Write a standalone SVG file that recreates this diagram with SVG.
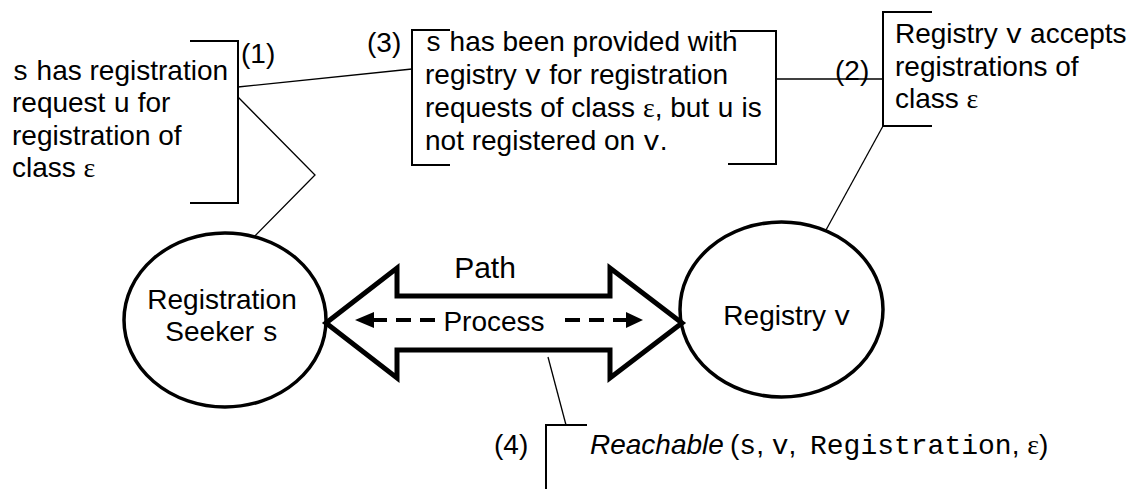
<svg xmlns="http://www.w3.org/2000/svg" width="1140" height="489" viewBox="0 0 1140 489">
<style>
  text { font-family: "Liberation Sans", Arial, sans-serif; font-size: 28px; fill: #000; }
  .m { font-family: "Liberation Mono", "Courier New", monospace; }
  .g { font-family: "Liberation Serif", "Times New Roman", serif; }
  .it { font-style: italic; }
  .br { fill: none; stroke: #000; stroke-width: 2; }
  .cn { fill: none; stroke: #000; stroke-width: 1.3; }
  .node { fill: #fff; stroke: #000; stroke-width: 3.5; }
  .big { fill: #fff; stroke: #000; stroke-width: 5; stroke-linejoin: miter; }
  .dash { fill: none; stroke: #000; stroke-width: 4; stroke-dasharray: 15 9; }
</style>
<rect width="1140" height="489" fill="#fff"/>

<g id="connectors">
  <line class="cn" x1="238" y1="87" x2="412" y2="69"/>
  <line class="cn" x1="776" y1="79" x2="883" y2="79"/>
  <polyline class="cn" points="238,97 315,175 248,243"/>
  <line class="cn" x1="883" y1="126" x2="826" y2="230"/>
  <line class="cn" x1="548" y1="357" x2="566" y2="425"/>
</g>

<g id="note1">
  <path class="br" d="M190,41 H238 V203 H190"/>
  <text x="241" y="63">(1)</text>
  <text x="12" y="80"><tspan class="m">s</tspan> has registration</text>
  <text x="12" y="112">request <tspan class="m">u</tspan> for</text>
  <text x="12" y="145">registration of</text>
  <text x="12" y="177">class <tspan class="g">ε</tspan></text>
</g>

<g id="note3">
  <path class="br" d="M450,30 H412 V165 H450"/>
  <path class="br" d="M730,31 H776 V164 H728"/>
  <text x="367" y="52">(3)</text>
  <text x="425" y="51"><tspan class="m">s</tspan> has been provided with</text>
  <text x="425" y="84">registry <tspan class="m">v</tspan> for registration</text>
  <text x="425" y="117">requests of class <tspan class="g">ε</tspan>, but <tspan class="m">u</tspan> is</text>
  <text x="425" y="150">not registered on <tspan class="m">v</tspan>.</text>
</g>

<g id="note2">
  <path class="br" d="M932,12 H883 V126 H932"/>
  <text x="835" y="80">(2)</text>
  <text x="895" y="43">Registry <tspan class="m">v</tspan> accepts</text>
  <text x="895" y="76">registrations of</text>
  <text x="895" y="108">class <tspan class="g">ε</tspan></text>
</g>

<g id="note4">
  <path class="br" d="M587,425 H546 V489"/>
  <text x="494" y="454">(4)</text>
  <text y="454"><tspan x="590" class="it">Reachable</tspan><tspan x="730">(</tspan><tspan class="m">s</tspan>, <tspan class="m">v</tspan>,<tspan x="810" class="m">Registration</tspan>, <tspan class="g">ε</tspan>)</text>
</g>

<g id="seeker">
  <ellipse class="node" cx="225" cy="320" rx="101" ry="87"/>
  <text x="222" y="309" text-anchor="middle">Registration</text>
  <text x="222" y="341" text-anchor="middle">Seeker <tspan class="m">s</tspan></text>
</g>

<g id="registry">
  <ellipse class="node" cx="781.5" cy="309.5" rx="101.5" ry="87.5"/>
  <text x="787" y="325" text-anchor="middle">Registry <tspan class="m">v</tspan></text>
</g>

<g id="path-arrow">
  <polygon class="big" points="326,323 397,268 397,296 610,296 610,268 682,323 610,378 610,350 397,350 397,378"/>
  <text x="485" y="278" text-anchor="middle" style="font-size:30px">Path</text>
  <text x="494" y="331" text-anchor="middle">Process</text>
  <line class="dash" x1="435" y1="320" x2="372" y2="320"/>
  <polygon points="355,320 374,312 374,328" fill="#000"/>
  <line class="dash" x1="565" y1="320" x2="628" y2="320"/>
  <polygon points="643,320 626,312 626,328" fill="#000"/>
</g>
</svg>
